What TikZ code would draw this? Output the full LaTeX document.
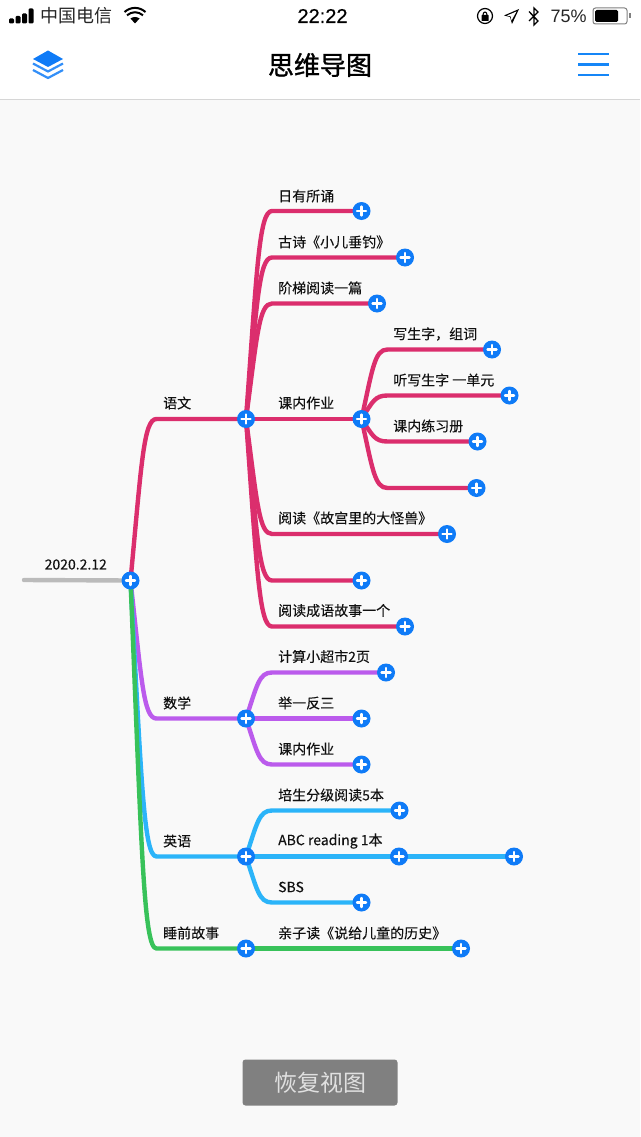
\documentclass[tikz,border=0pt]{standalone}
\usepackage{fontspec}
\setmainfont[FakeBold=0.12]{Noto Sans CJK SC}
\newfontfamily\plainf{Noto Sans CJK SC}
\newfontfamily\titlef[FakeBold=1.2]{Noto Sans CJK SC}
\newfontfamily\latinf{Liberation Sans}
\newfontfamily\clockf[FakeBold=0.4]{Liberation Sans}
\usetikzlibrary{backgrounds,calc}
\definecolor{cred}{HTML}{DB2E6D}
\definecolor{cpur}{HTML}{BB5BEC}
\definecolor{cblu}{HTML}{2BB4F9}
\definecolor{cgrn}{HTML}{38C25A}
\definecolor{cgry}{HTML}{BBBBBB}
\definecolor{cbtn}{HTML}{0F7BF7}
\definecolor{ctxt}{HTML}{111111}
\definecolor{cbg}{HTML}{F9F9F9}
\tikzset{
  plusnode/.style={circle,fill=cbtn,inner sep=0pt,minimum size=18pt,
    path picture={\draw[white,line width=2.4pt,line cap=round]
      (path picture bounding box.center) +(-4.5pt,0) -- +(4.5pt,0)
      (path picture bounding box.center) +(0,-4.5pt) -- +(0,4.5pt);}},
  lab/.style={anchor=west,inner sep=0pt,font=\fontsize{14}{14}\selectfont,text=ctxt},
  conn/.style={line width=4.4pt,line cap=round,line join=round},
}
\newcommand\branch[3]{\draw[conn,#1] let \p1=(#2.center), \p2=(#3.center) in
  (\p1) .. controls (\x1+11pt,{\y1+0.72*(\y2-\y1)}) and (\x1+13pt,\y2) .. (\x1+26pt,\y2) -- (\p2);}
\begin{document}
\begin{tikzpicture}[x=1pt,y=-1pt]
\useasboundingbox (0,0) rectangle (640,1137);
\draw[black!16,line width=1pt] (0,99.5) -- (640,99.5);
% status bar
\foreach \x/\h in {11.5/5,18/7.5,24.5/10,31/15}{\fill[rounded corners=1.2pt] (\x-2.5,23.5-\h) rectangle (\x+2.5,23.5);}
\node[anchor=west,inner sep=0pt,font=\plainf\fontsize{18}{18}\selectfont,text=black!85] (carrier) at (40,16) {中国电信};
\fill (135,23.5) -- (130.5,18.5) .. controls (133,16.5) and (137,16.5) .. (139.5,18.5) -- cycle;
\draw[line width=2pt] (127,15.3) .. controls (132,11.2) and (138,11.2) .. (143,15.3);
\draw[line width=2pt] (124.5,12) .. controls (131,6.5) and (139,6.5) .. (145.5,12);
\node[inner sep=0pt,font=\clockf\fontsize{20}{20}\selectfont,text=black] (clock) at (322.5,16) {22:22};
\draw[line width=1.2pt] (485,16) circle (7.5pt);
\fill[rounded corners=.5pt] (481.5,15) rectangle (488.5,21);
\draw[line width=1.1pt] (483,15) arc (180:0:2pt and 3pt);
\fill (519,9) -- (512,24) -- (510,17) -- (504,15.5) -- cycle;
\fill[white] (516.5,11.5) -- (511.5,20.5) -- (510.7,16.4) -- (507,15.5) -- cycle;
\draw[line width=1.3pt] (529,11.5) -- (538,21) -- (534,25) -- (534,8) -- (538,12) -- (529,21);
\node[anchor=west,inner sep=0pt,font=\latinf\fontsize{18}{18}\selectfont,text=black!85] (pct) at (550.5,16.5) {75\%};
\draw[black!50,line width=1pt,rounded corners=2.5pt] (593,8) rectangle (627,24);
\fill[rounded corners=1.5pt] (595,10) rectangle (618,22);
\fill[black!50] (629,13.5) rectangle (630.5,18.5);
% header
\node[inner sep=0pt,font=\titlef\fontsize{26}{26}\selectfont,text=black] (title) at (320,65) {思维导图};
\fill[cbtn] (48,50.5) -- (63,59) -- (48,67) -- (33,59) -- cycle;
\draw[cbtn!85,line width=2.2pt,line join=miter] (33,63.5) -- (48,71.5) -- (63,63.5);
\draw[cbtn!85,line width=2.2pt,line join=miter] (33,70) -- (48,78) -- (63,70);
\foreach \y in {54,64.5,75}{\draw[cbtn!80!cblu,line width=2.2pt] (578,\y) -- (609,\y);}
% nodes
\node[plusnode] (root) at (130.5,580.5) {};
\node[plusnode] (yw) at (246,419) {};
\node[plusnode] (a1) at (361.5,211) {};
\node[plusnode] (a2) at (405,257.5) {};
\node[plusnode] (a3) at (377,303.5) {};
\node[plusnode] (a4) at (361.5,419) {};
\node[plusnode] (b1) at (492,349.5) {};
\node[plusnode] (b2) at (509.5,395.5) {};
\node[plusnode] (b3) at (477.5,441.5) {};
\node[plusnode] (b4) at (476.5,488) {};
\node[plusnode] (a5) at (447,534) {};
\node[plusnode] (a6) at (361.5,580.5) {};
\node[plusnode] (a7) at (405,626.5) {};
\node[plusnode] (sx) at (246,718.5) {};
\node[plusnode] (c1) at (386,672.5) {};
\node[plusnode] (c2) at (361.5,718.5) {};
\node[plusnode] (c3) at (361.5,764.5) {};
\node[plusnode] (yy) at (246,856.5) {};
\node[plusnode] (d1) at (399.5,810.5) {};
\node[plusnode] (d2) at (399,856.5) {};
\node[plusnode] (d3) at (514,856.5) {};
\node[plusnode] (d4) at (361.5,902.5) {};
\node[plusnode] (sq) at (246,948.5) {};
\node[plusnode] (e1) at (461,948.5) {};
\coordinate (rootend) at (24,580);
% connectors
\begin{scope}[on background layer]
\fill[white] (0,0) rectangle (640,99);
\fill[cbg] (0,100) rectangle (640,1137);
\draw[conn,cgry] (rootend) -- (root.center);
\branch{cred}{root}{yw}
\foreach \nn in {a1,a2,a3,a4,a5,a6,a7}{\branch{cred}{yw}{\nn}}
\foreach \nn in {b1,b2,b3,b4}{\branch{cred}{a4}{\nn}}
\branch{cpur}{root}{sx}
\foreach \nn in {c1,c2,c3}{\branch{cpur}{sx}{\nn}}
\branch{cblu}{root}{yy}
\foreach \nn in {d1,d2,d4}{\branch{cblu}{yy}{\nn}}
\draw[conn,cblu] (d2.center) -- (d3.center);
\branch{cgrn}{root}{sq}
\draw[conn,cgrn] (sq.center) -- (e1.center);
\end{scope}
% labels
\node[lab] (l0) at (44.5,564.5) {2020.2.12};
\node[lab] at (163,403) {语文};
\node[lab] at (278,196) {日有所诵};
\node[lab] at (278,242) {古诗《小儿垂钓》};
\node[lab] at (278,288) {阶梯阅读一篇};
\node[lab] at (278,403) {课内作业};
\node[lab] at (393,334) {写生字，组词};
\node[lab] at (393,380) {听写生字 一单元};
\node[lab] at (393,426) {课内练习册};
\node[lab] at (278,518) {阅读《故宫里的大怪兽》};
\node[lab] at (278,610.5) {阅读成语故事一个};
\node[lab] at (163,703) {数学};
\node[lab] at (278,656.5) {计算小超市2页};
\node[lab] at (278,703) {举一反三};
\node[lab] at (278,749) {课内作业};
\node[lab] at (163,841) {英语};
\node[lab] at (278,795) {培生分级阅读5本};
\node[lab] at (278,841) {ABC reading 1本};
\node[lab] at (278,887) {SBS};
\node[lab] at (163,933) {睡前故事};
\node[lab] at (278,933) {亲子读《说给儿童的历史》};
% restore button
\node[fill=black!50,rounded corners=3pt,minimum width=155pt,minimum height=46pt,inner sep=0pt,
  text=white!88!black,font=\plainf\fontsize{23}{23}\selectfont] (restore) at (320,1082.5) {恢复视图};
\end{tikzpicture}
\end{document}
